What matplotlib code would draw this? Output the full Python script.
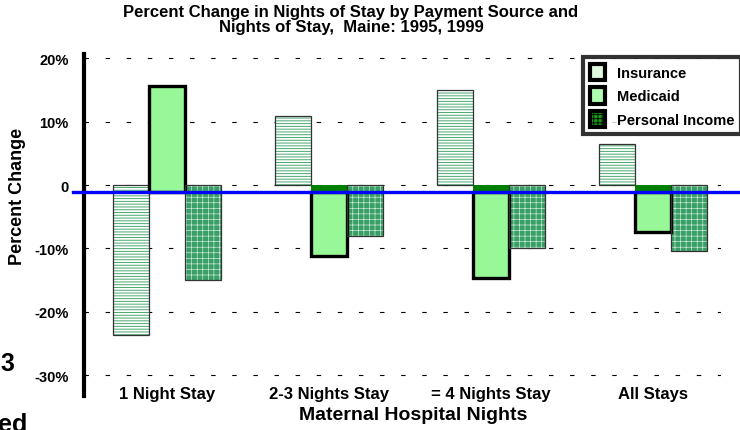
import matplotlib
matplotlib.use('Agg')
import matplotlib.pyplot as plt
import matplotlib.transforms as mtransforms
from matplotlib.patches import Patch
import numpy as np

plt.rcParams['font.family'] = ['Liberation Sans', 'DejaVu Sans']
plt.rcParams['font.weight'] = 'bold'

# Data (percent change 1995 -> 1999)
categories = ['1 Night Stay', '2-3 Nights Stay', '= 4 Nights Stay', 'All Stays']
insurance = [-23.7, 10.9, 15.0, 6.5]
medicaid = [15.6, -11.2, -14.7, -7.4]
personal_income = [-15.0, -8.1, -10.0, -10.4]
reference_level = -1.15   # the blue line sits a little below zero
yticks = [-30, -20, -10, 0, 10, 20]
ytick_labels = ['-30%', '-20%', '-10%', '0', '10%', '20%']

fig = plt.figure(figsize=(7.4, 4.31), dpi=100)
ax = fig.add_axes([84 / 740, 1 - 397 / 431, 637 / 740, 342 / 431])

x = np.arange(len(categories))
w = 0.222

# Insurance: white with fine green horizontal lines
plt.rcParams['hatch.linewidth'] = 0.7
ax.bar(x - w, insurance, w, color='white', edgecolor='#4aa870', hatch='------', lw=0, zorder=2)
ax.bar(x - w, insurance, w, fill=False, edgecolor='#333333', lw=0.9, zorder=3)

# Medicaid: light green with heavy black border, drawn from the blue line
med = np.array(medicaid)
ax.bar(x, med - reference_level, w, bottom=reference_level, color='#98f898',
       edgecolor='black', lw=2.4, zorder=3)
neg = med < 0
ax.bar(x[neg], np.full(neg.sum(), reference_level), w, color='#007f00', lw=0, zorder=3)

# Personal income: sea green with thin white grid
plt.rcParams['hatch.linewidth'] = 0.45
ax.bar(x + w, personal_income, w, color='#38a066', edgecolor='#d8eee0', hatch='+++', lw=0, zorder=2)
ax.bar(x + w, personal_income, w, fill=False, edgecolor='#333333', lw=0.9, zorder=3)

# blue reference line running past the axes
trans = mtransforms.blended_transform_factory(fig.transFigure, ax.transData)
ax.plot([73 / 740, 1.0], [reference_level, reference_level], color='blue', lw=2.4,
        transform=trans, clip_on=False, zorder=5)

ax.set_xlim(-0.512, 3.42)
ax.set_ylim(-33.3, 20.7)
ax.set_yticks(yticks)
ax.set_yticklabels(ytick_labels, fontsize=10.5)
ax.set_xticks(x)
ax.set_xticklabels(categories, fontsize=12)
ax.tick_params(axis='y', length=0, pad=11)
ax.tick_params(axis='x', length=0, pad=-7)
ax.yaxis.grid(True, color='black', linestyle=(0, (4, 15)), lw=0.8)
ax.set_axisbelow(True)
for s in ['top', 'right', 'bottom']:
    ax.spines[s].set_visible(False)
ax.spines['left'].set_linewidth(3)

fig.text(351 / 740, 1 - 20 / 431,
         'Percent Change in Nights of Stay by Payment Source and\nNights of Stay,  Maine: 1995, 1999',
         ha='center', va='center', fontsize=12, linespacing=1.02)
fig.text(413 / 740, 1 - 416 / 431, 'Maternal Hospital Nights', ha='center', va='center', fontsize=14)
fig.text(18 / 740, 1 - 196 / 431, 'Percent Change', ha='center', va='center', rotation=90, fontsize=13)

# fragments of the neighbouring page at the left edge
fig.text(0, 1 - 364 / 431, '3', ha='left', va='center', fontsize=18)
fig.text(-2 / 740, 1 - 413 / 431, 'ed', ha='left', va='top', fontsize=18)

plt.rcParams['hatch.linewidth'] = 0.6
handles = [
    Patch(facecolor='#e0f8e0', edgecolor='black', lw=3),
    Patch(facecolor='#b0ffb0', edgecolor='black', lw=3),
    Patch(facecolor='#1a9a1a', edgecolor='black', lw=3, hatch='++++'),
]
leg = fig.legend(handles, ['Insurance', 'Medicaid', 'Personal Income'],
                 loc='upper left', bbox_to_anchor=(583 / 740, 1 - 58 / 431),
                 fontsize=10.5, handlelength=1.05, handleheight=1.35, labelspacing=0.5,
                 handletextpad=0.85, borderpad=0.45, borderaxespad=0, fancybox=False)
leg.get_frame().set_edgecolor('black')
leg.get_frame().set_linewidth(3)

fig.savefig('out.png', dpi=100)
